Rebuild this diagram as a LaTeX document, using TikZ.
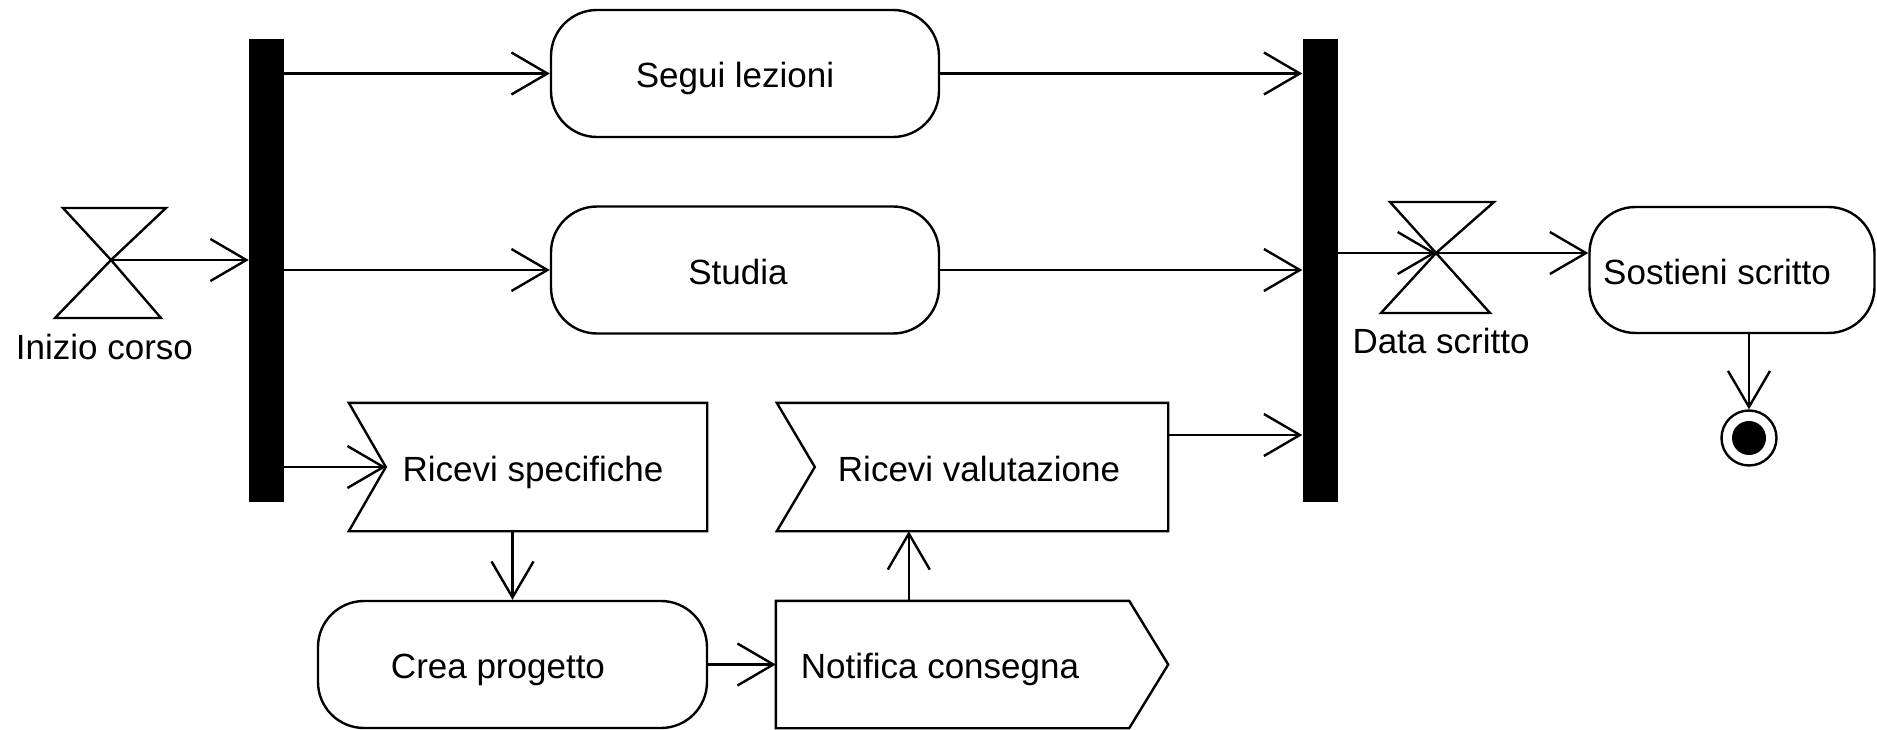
\documentclass[tikz,border=0pt]{standalone}
\usepackage{fontspec}
\setmainfont{Liberation Sans}
\usetikzlibrary{arrows.meta,calc}
\begin{document}
\begin{tikzpicture}[x=1pt,y=-1pt,
  every node/.style={font=\fontsize{35}{42}\selectfont, text height=30pt, text depth=2pt, inner sep=0pt},
  ln/.style={line width=2.4pt},
  arr/.style={ln, -{Straight Barb[length=36pt,width=42pt]}},
  act/.style={draw, ln, rounded corners=46pt, minimum height=127pt},
  ev/.style={minimum height=128pt},
  bar/.style={fill=black, minimum width=35pt, minimum height=463pt}
]
\useasboundingbox (0,0) rectangle (1877,730);

% bars
\node[bar] (lbar) at (266.5,270.5) {};
\node[bar] (rbar) at (1320,270.5) {};

% actions
\node[act, minimum width=388pt] (seg) at (745,73.5) {Segui lezioni\hspace*{20pt}};
\node[act, minimum width=388pt] (stu) at (745,270) {Studia\hspace*{14pt}};
\node[act, minimum width=285pt, minimum height=126pt] (sos) at (1732,270) {Sostieni scritto\hspace*{30pt}};
\node[act, minimum width=389pt] (cp) at (512.5,664.5) {Crea progetto\hspace*{29pt}};

% accept / send events
\node[ev, minimum width=358pt] (rs) at (528,467) {\hspace*{10pt}Ricevi specifiche};
\node[ev, minimum width=391pt] (rv) at (972.5,467) {\hspace*{13pt}Ricevi valutazione};
\node[ev, minimum width=392pt, minimum height=127pt] (nc) at (972,664.5) {Notifica consegna\hspace*{64pt}};
\draw[ln] (rs.north west) -- (rs.north east) -- (rs.south east) -- (rs.south west) -- ($(rs.west)+(37,0)$) -- cycle;
\draw[ln] (rv.north west) -- (rv.north east) -- (rv.south east) -- (rv.south west) -- ($(rv.west)+(38,0)$) -- cycle;
\draw[ln] (nc.north west) -- ($(nc.north east)+(-39,0)$) -- (nc.east) -- ($(nc.south east)+(-39,0)$) -- (nc.south west) -- cycle;

% time events
\coordinate (hi) at (111,260);
\draw[ln] ($(hi)+(-48,-52)$) -- ($(hi)+(55,-52)$) -- (hi) -- cycle;
\draw[ln] (hi) -- ($(hi)+(50,58)$) -- ($(hi)+(-56,58)$) -- cycle;
\node (lhi) at (104.5,345) {Inizio corso};

\coordinate (hd) at (1436,253);
\draw[ln] ($(hd)+(-46,-51)$) -- ($(hd)+(58,-51)$) -- (hd) -- cycle;
\draw[ln] (hd) -- ($(hd)+(54,60)$) -- ($(hd)+(-55,60)$) -- cycle;
\node (lhd) at (1441,339) {Data scritto};

% final node
\node[circle, draw, ln, minimum size=55pt] (fin) at (1749,438) {};
\fill (fin.center) circle[radius=17];

% connectors
\draw[arr] (hi) -- (hi -| lbar.west);
\draw[arr] (lbar.east |- seg.west) -- (seg.west);
\draw[arr] (lbar.east |- stu.west) -- (stu.west);
\coordinate (rsn) at ($(rs.west)+(37,0)$);
\draw[arr] (lbar.east |- rsn) -- (rsn);
\draw[arr] (seg.east) -- (seg.east -| rbar.west);
\draw[arr] (stu.east) -- (stu.east -| rbar.west);
\coordinate (rvo) at ($(rv.east)+(0,-32)$);
\draw[arr] (rvo) -- (rvo -| rbar.west);
\draw[arr] (rbar.east |- hd) -- (hd);
\draw[arr] (hd) -- (hd -| sos.west);
\draw[arr] (fin.north |- sos.south) -- (fin.north);
\draw[arr] (cp.north |- rs.south) -- (cp.north);
\draw[arr] (cp.east) -- (cp.east -| nc.west);
\coordinate (ncu) at ($(nc.north west)+(133,0)$);
\draw[arr] (ncu) -- (ncu |- rv.south);
\end{tikzpicture}
\end{document}
